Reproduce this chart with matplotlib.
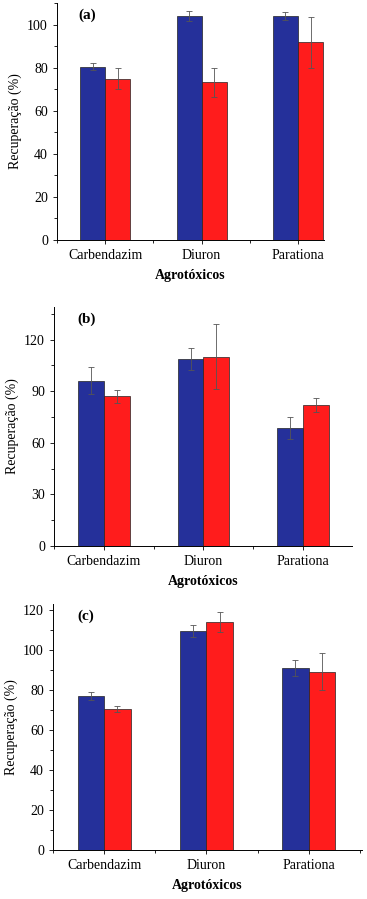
import numpy as np
import matplotlib
matplotlib.use("Agg")
import matplotlib.pyplot as plt
from matplotlib.ticker import MultipleLocator

categories = ["Carbendazim", "Diuron", "Parationa"]

# panel (a)
a_blue = [80.5, 103.9, 104.0]
a_blue_err = [1.8, 2.3, 1.8]
a_red = [74.9, 73.2, 91.8]
a_red_err = [5.0, 6.6, 11.8]

# panel (b)
b_blue = [96.1, 108.7, 68.4]
b_blue_err = [7.8, 6.4, 6.4]
b_red = [87.0, 110.1, 81.9]
b_red_err = [4.0, 18.8, 3.9]

# panel (c)
c_blue = [77.0, 109.3, 90.8]
c_blue_err = [2.2, 3.0, 4.0]
c_red = [70.7, 114.0, 89.2]
c_red_err = [1.5, 4.8, 9.3]

BLUE = "#25309a"
RED = "#ff1c1c"
W, H = 367, 899

plt.rcParams["font.family"] = ["Liberation Serif", "DejaVu Serif"]
plt.rcParams["font.size"] = 10

fig = plt.figure(figsize=(W / 100, H / 100), dpi=100)


def px_axes(left, right, top, bottom):
    return fig.add_axes([left / W, 1 - bottom / H, (right - left) / W, (bottom - top) / H])


def panel(ax, blue, blue_err, red, red_err, ymax, ystep, label, xmax):
    x = np.arange(1, len(categories) + 1)
    bw = 0.26
    ekw = dict(ecolor="#555555", elinewidth=0.6, capsize=2.5, capthick=0.6)
    ax.bar(x - bw / 2, blue, bw, yerr=blue_err, color=BLUE, edgecolor="#222222",
           linewidth=0.5, error_kw=ekw)
    ax.bar(x + bw / 2, red, bw, yerr=red_err, color=RED, edgecolor="#222222",
           linewidth=0.5, error_kw=ekw)
    ax.set_xlim(0.5, xmax)
    ax.set_ylim(0, ymax)
    ax.set_xticks(x)
    ax.set_xticklabels(categories)
    ax.xaxis.set_minor_locator(MultipleLocator(0.5))
    ax.yaxis.set_major_locator(MultipleLocator(ystep))
    ax.yaxis.set_minor_locator(MultipleLocator(ystep / 2))
    ax.tick_params(which="major", direction="out", length=3, width=0.6, labelsize=10)
    ax.tick_params(which="minor", direction="out", length=2, width=0.6)
    for s in ("top", "right"):
        ax.spines[s].set_visible(False)
    for s in ("left", "bottom"):
        ax.spines[s].set_linewidth(0.7)
    ax.set_ylabel("Recuperação (%)", fontsize=10, labelpad=4)
    ax.set_xlabel("Agrotóxicos", fontsize=10, fontweight="bold", labelpad=5)
    ax.text(0.08, 0.95, label, transform=ax.transAxes, fontsize=11,
            fontweight="bold", va="center", ha="left")


ax_a = px_axes(57, 324, 3, 240)
panel(ax_a, a_blue, a_blue_err, a_red, a_red_err, 110, 20, "(a)", 3.27)

ax_b = px_axes(54, 352, 307, 546)
panel(ax_b, b_blue, b_blue_err, b_red, b_red_err, 139, 30, "(b)", 3.49)

ax_c = px_axes(53, 362, 604, 850)
panel(ax_c, c_blue, c_blue_err, c_red, c_red_err, 123, 20, "(c)", 3.52)

fig.savefig("out.png", dpi=100)
